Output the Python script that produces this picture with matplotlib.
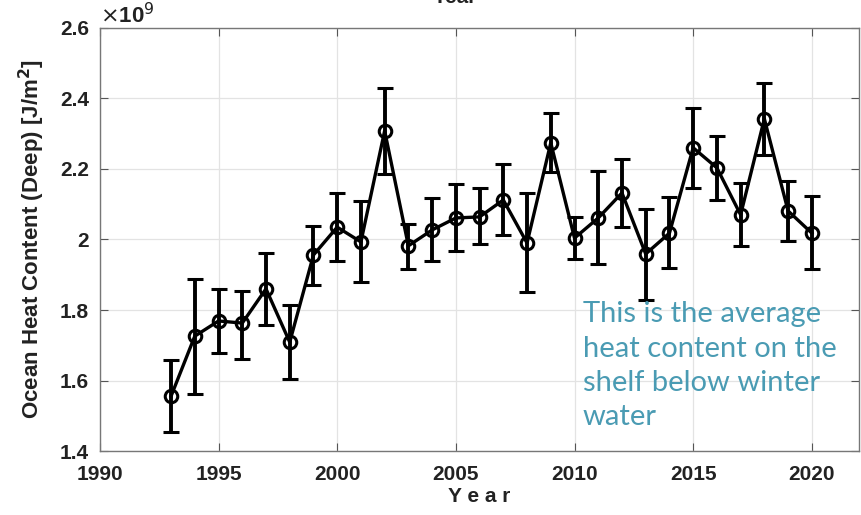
import matplotlib
matplotlib.use("Agg")
import matplotlib.pyplot as plt
import numpy as np

# ── data (units of 1e9 J/m^2) ────────────────────────────────────────────────
years = [1993, 1994, 1995, 1996, 1997, 1998, 1999, 2000, 2001, 2002,
         2003, 2004, 2005, 2006, 2007, 2008, 2009, 2010, 2011, 2012,
         2013, 2014, 2015, 2016, 2017, 2018, 2019, 2020]
ohc = [1.556, 1.726, 1.769, 1.763, 1.860, 1.709, 1.956, 2.035, 1.993, 2.308,
       1.982, 2.027, 2.061, 2.064, 2.112, 1.990, 2.274, 2.004, 2.061, 2.132,
       1.959, 2.018, 2.260, 2.203, 2.070, 2.342, 2.081, 2.018]
err_top = [1.658, 1.888, 1.860, 1.854, 1.962, 1.814, 2.038, 2.132, 2.109, 2.430,
           2.044, 2.118, 2.157, 2.146, 2.214, 2.132, 2.359, 2.064, 2.194, 2.228,
           2.087, 2.121, 2.373, 2.294, 2.160, 2.444, 2.166, 2.123]
err_bot = [1.454, 1.562, 1.678, 1.661, 1.757, 1.604, 1.871, 1.939, 1.879, 2.186,
           1.916, 1.939, 1.967, 1.987, 2.013, 1.851, 2.191, 1.945, 1.930, 2.035,
           1.828, 1.919, 2.146, 2.112, 1.982, 2.240, 1.996, 1.916]

x_ticks = [1990, 1995, 2000, 2005, 2010, 2015, 2020]
y_ticks = [1.4, 1.6, 1.8, 2.0, 2.2, 2.4, 2.6]
y_ticklabels = ["1.4", "1.6", "1.8", "2", "2.2", "2.4", "2.6"]

SANS = ["Liberation Sans", "DejaVu Sans"]
TEAL = "#4a9bb3"
INK = "#222222"

ohc_a = np.array(ohc)
yerr = [ohc_a - np.array(err_bot), np.array(err_top) - ohc_a]

# ── figure ───────────────────────────────────────────────────────────────────
fig = plt.figure(figsize=(8.61, 5.15), dpi=100, facecolor="white")
ax = fig.add_axes([0.116, 0.124, 0.882, 0.822])

ax.errorbar(years, ohc, yerr=yerr, color="black", lw=2.4, elinewidth=2.8,
            capsize=6, capthick=2.8, marker="o", ms=9, mfc="none",
            mec="black", mew=2.2, zorder=3)

ax.set_xlim(1990, 2022)
ax.set_ylim(1.4, 2.6)
ax.set_xticks(x_ticks)
ax.set_yticks(y_ticks)
ax.set_yticklabels(y_ticklabels)
ax.grid(True, color="#e3e3e3", lw=0.9, zorder=0)
ax.set_axisbelow(True)
ax.tick_params(direction="in", top=True, right=True, length=6,
               color="#555555", labelsize=15)
ax.tick_params(axis="x", pad=10)
ax.tick_params(axis="y", pad=8)
for lab in ax.get_xticklabels() + ax.get_yticklabels():
    lab.set_family(SANS)
    lab.set_fontweight("bold")
    lab.set_color(INK)
for sp in ax.spines.values():
    sp.set_edgecolor("#777777")
    sp.set_linewidth(1.0)

ax.set_xlabel("Y e a r", family=SANS, fontweight="bold", fontsize=15,
              color=INK, labelpad=2)
ax.set_ylabel("Ocean Heat Content (Deep) [J/m$^{\\mathbf{2}}$]", family=SANS,
              fontweight="bold", fontsize=16, color=INK, labelpad=9)

# exponent label (partly cut at top like the source)
ax.text(0.0, 1.0, r"$\times$10$^{9}$", transform=ax.transAxes,
        family=SANS, fontweight="bold", fontsize=16, color=INK,
        ha="left", va="bottom")

# clipped title from the panel above
fig.text(0.528, 1.005, "Year", family=SANS, fontweight="bold", fontsize=15,
         color=INK, ha="center", va="center")

ax.text(2010.35, 1.825, "This is the average\nheat content on the\nshelf below winter\nwater",
        family=["Lato", "DejaVu Sans"], fontsize=21, color=TEAL,
        ha="left", va="top", linespacing=1.4, zorder=4)

fig.savefig("out.png", dpi=100, facecolor="white")
